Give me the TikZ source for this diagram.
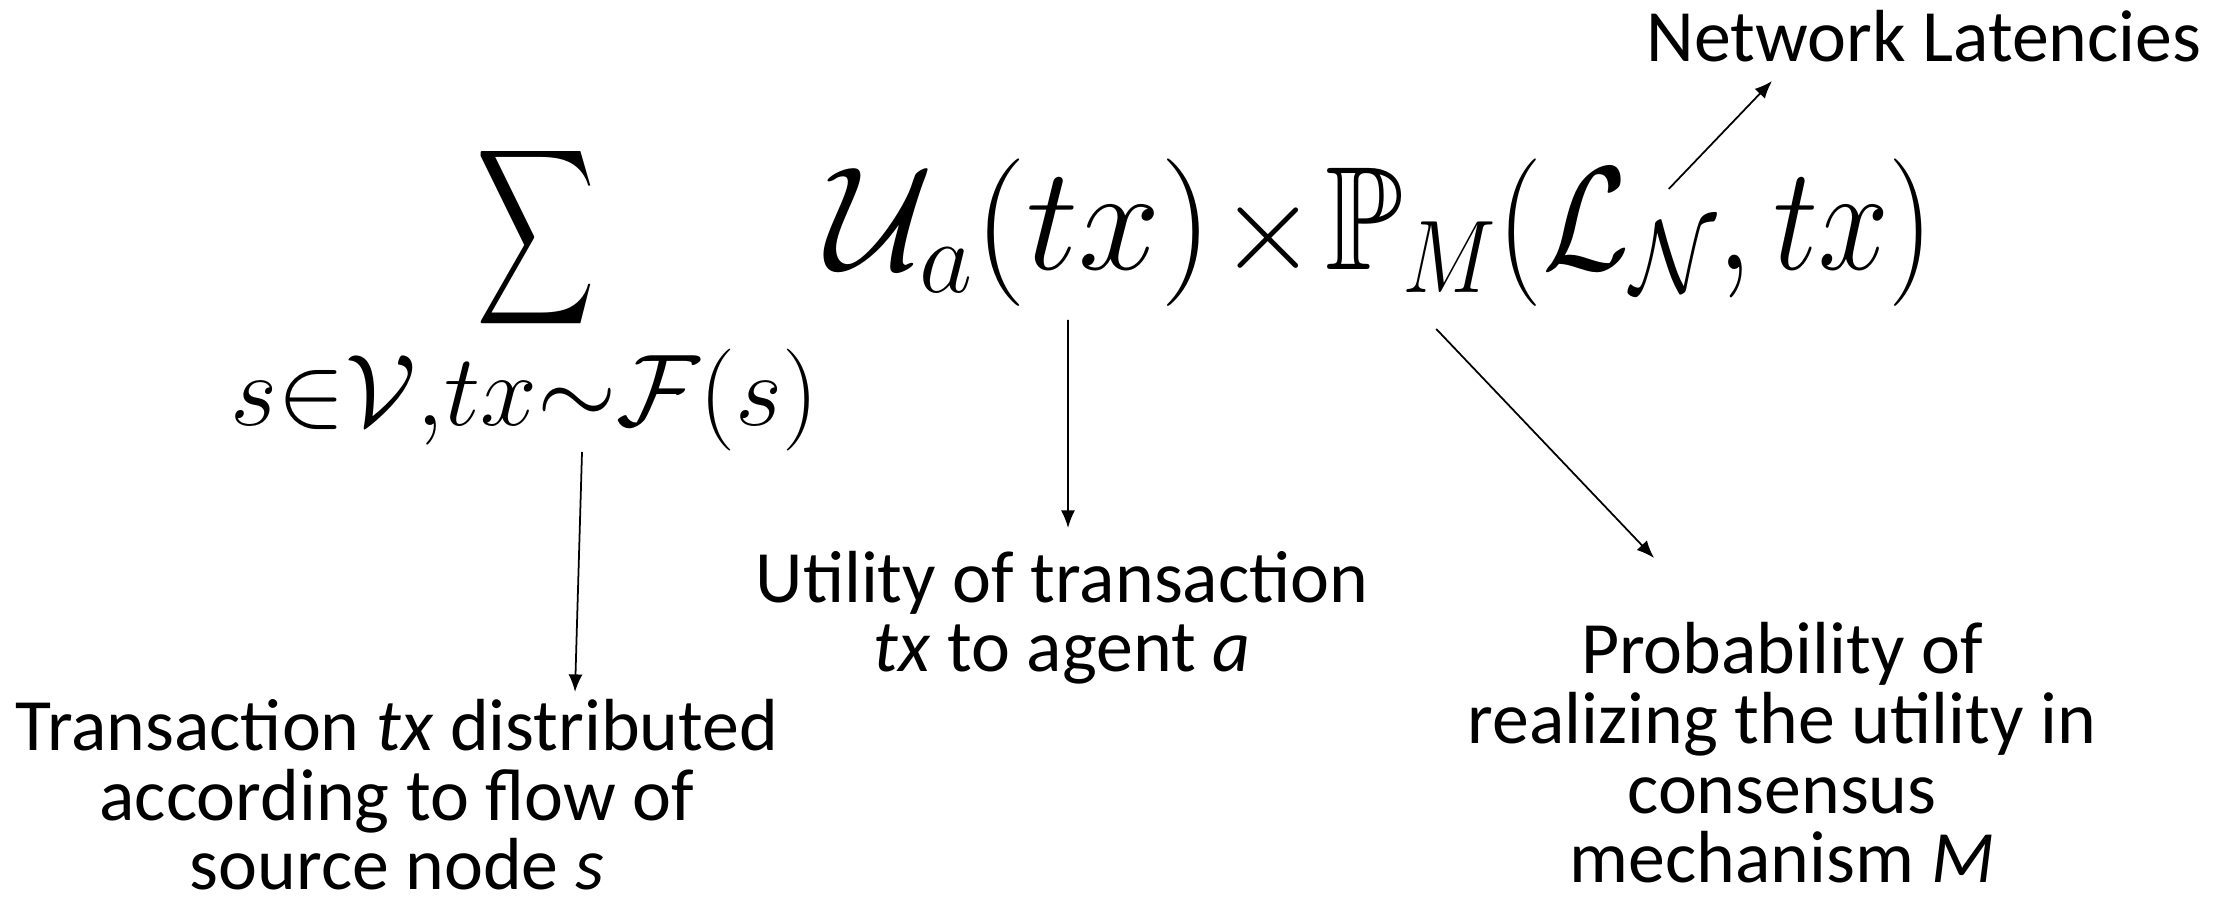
\RequirePackage{fix-cm}
\documentclass[tikz,border=0pt]{standalone}
\usepackage{amssymb}
\usepackage{amsmath}
\usepackage{graphicx}
\usepackage{fontspec}
\setmainfont{Carlito}
\usepackage{tikz}
\usetikzlibrary{arrows.meta}

\tikzset{
  note/.style={align=center, inner sep=0pt, font=\fontsize{21}{19.9}\selectfont},
  term/.style={inner sep=0pt, font=\fontsize{42}{50}\selectfont},
}

\begin{document}
\begin{tikzpicture}[>={Latex[length=5pt,width=4pt]}, line width=0.5pt]
  \useasboundingbox (0,0) rectangle (22.26,9.10);

  % Sum operator and its range
  \node[term, font=\fontsize{35}{40}\selectfont] (sumop) at (5.36,6.72) {\scalebox{0.67}[1]{$\displaystyle\sum$}};
  \node[inner sep=0pt, font=\fontsize{29}{34}\selectfont, anchor=base] (sumsub) at (5.25,4.84) {$s{\in}\mathcal{V}{,}tx{\sim}\mathcal{F}(s)$};

  % Utility times probability
  \node[term, anchor=base west] (util) at (8.26,6.40) {$\mathcal{U}_a(tx)$};
  \node[term, anchor=base west] (times) at ([xshift=0.05cm]util.base east) {\scalebox{0.85}{$\times$}};
  \node[term, anchor=base west] (prob) at ([xshift=0.06cm]times.base east) {\scalebox{0.86}[1]{$\mathbb{P}_M(\mathcal{L}_{\mathcal{N}},tx)$}};

  % Explanations (base = last line)
  \node[note, anchor=base] (netlat) at (19.24,8.48) {Network Latencies};
  \node[note, anchor=base] (utilnote) at (10.62,2.38) {Utility of transaction\\\textit{tx} to agent \textit{a}};
  \node[note, anchor=base] (srcnote) at (3.97,0.20) {Transaction \textit{tx} distributed\\according to flow of\\source node \textit{s}};
  \node[note, anchor=base] (probnote) at (17.82,0.27) {Probability of\\realizing the utility in\\consensus\\mechanism \textit{M}};

  % Pointers from the terms to their notes
  \draw [->] ([xshift=0.57cm,yshift=-0.26cm]sumsub.base) -- ([xshift=1.78cm,yshift=1.98cm]srcnote.base);
  \draw [->] ([xshift=2.42cm,yshift=-0.50cm]util.base west) -- ([xshift=0.06cm,yshift=1.44cm]utilnote.base);
  \draw [->] ([xshift=1.12cm,yshift=-0.59cm]prob.base west) -- ([xshift=-1.28cm,yshift=3.25cm]probnote.base);
  \draw [->] ([xshift=-2.66cm,yshift=0.81cm]prob.base east) -- ([xshift=-1.52cm,yshift=-0.19cm]netlat.base);
\end{tikzpicture}
\end{document}
